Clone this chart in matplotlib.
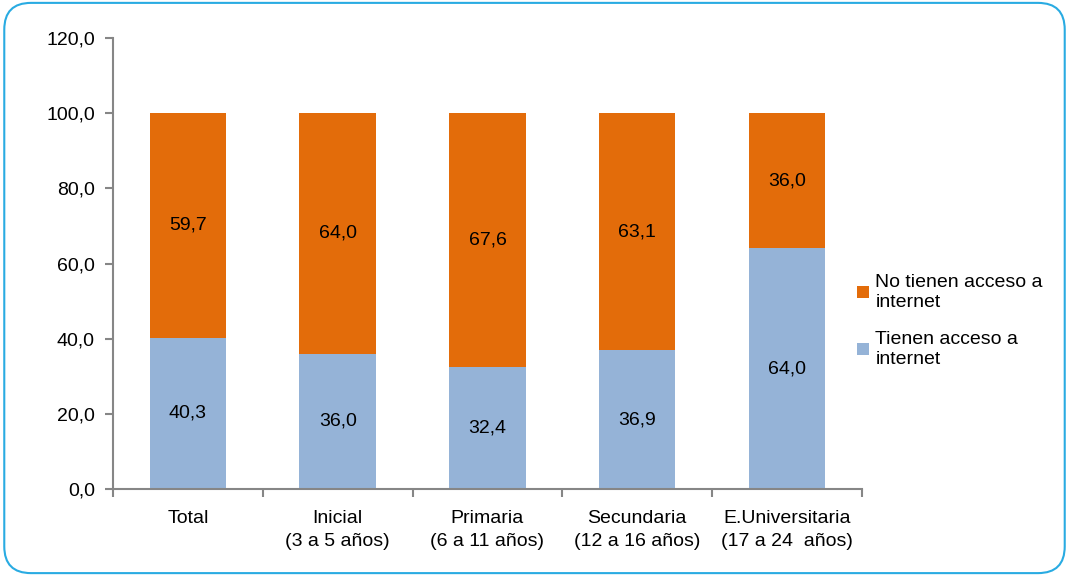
import matplotlib
matplotlib.use("Agg")
import matplotlib.pyplot as plt
from matplotlib.patches import FancyBboxPatch

plt.rcParams['font.family'] = ['Liberation Sans', 'DejaVu Sans']

categories = ["Total", "Inicial\n(3 a 5 años)", "Primaria\n(6 a 11 años)",
              "Secundaria\n(12 a 16 años)", "E.Universitaria\n(17 a 24  años)"]
con_acceso = [40.3, 36.0, 32.4, 36.9, 64.0]
sin_acceso = [59.7, 64.0, 67.6, 63.1, 36.0]
yticks = [0, 20, 40, 60, 80, 100, 120]

c_orange = "#E36C0A"
c_blue = "#95B3D7"
c_axis = "#868686"

fig = plt.figure(figsize=(10.69, 5.76), dpi=100)
ax = fig.add_axes([0.1057, 0.151, 0.7006, 0.783])

x = list(range(len(categories)))
b1 = ax.bar(x, con_acceso, width=0.51, color=c_blue, label="Tienen acceso a\ninternet")
b2 = ax.bar(x, sin_acceso, width=0.51, bottom=con_acceso, color=c_orange,
            label="No tienen acceso a\ninternet")

fs = 14
for xi, v in zip(x, con_acceso):
    ax.text(xi, v / 2, f"{v:.1f}".replace(".", ","), ha="center", va="center", fontsize=fs)
for xi, b, v in zip(x, con_acceso, sin_acceso):
    ax.text(xi, b + v / 2, f"{v:.1f}".replace(".", ","), ha="center", va="center", fontsize=fs)

ax.set_xlim(-0.5, len(categories) - 0.5)
ax.set_ylim(0, 120)
ax.set_yticks(yticks)
ax.set_yticklabels([f"{t:.1f}".replace(".", ",") for t in yticks], fontsize=fs)

ax.set_xticks([i - 0.5 for i in range(len(categories) + 1)])
ax.set_xticklabels([])
ax.set_xticks(x, minor=True)
ax.set_xticklabels(categories, minor=True, fontsize=fs, linespacing=1.48)
ax.tick_params(axis="x", which="minor", length=0, pad=15)
ax.tick_params(axis="x", which="major", length=6, color=c_axis, width=1.5)
ax.tick_params(axis="y", length=6, color=c_axis, width=1.5, pad=7)

for s in ["top", "right"]:
    ax.spines[s].set_visible(False)
for s in ["left", "bottom"]:
    ax.spines[s].set_color(c_axis)
    ax.spines[s].set_linewidth(1.5)

handles = [b2, b1]
leg = fig.legend(handles, [h.get_label() for h in handles], loc="upper left",
                 bbox_to_anchor=(0.8017, 0.5243), frameon=False, fontsize=fs,
                 handlelength=0.6, handleheight=0.6, handletextpad=0.35,
                 labelspacing=1.05, borderpad=0, borderaxespad=0)

border = FancyBboxPatch((0.004, 0.005), 0.992, 0.99, boxstyle="round,pad=0,rounding_size=0.025",
                        transform=fig.transFigure, fill=False, edgecolor="#29ABE2",
                        linewidth=1.5, mutation_aspect=1069/576)
fig.patches.append(border)

fig.savefig("out.png", dpi=100)
